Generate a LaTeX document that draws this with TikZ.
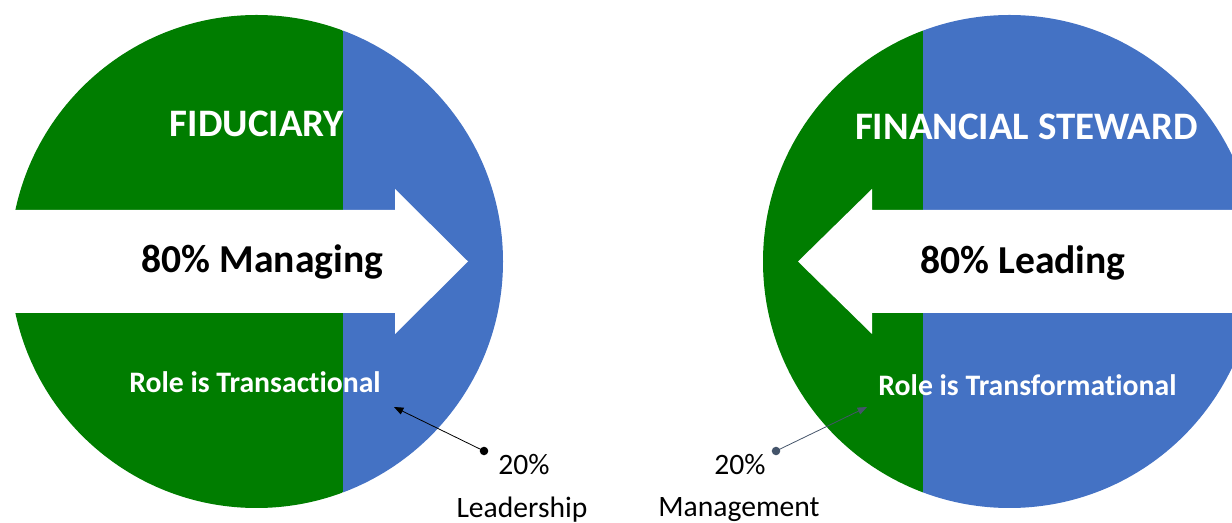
\documentclass[tikz,border=0pt]{standalone}
\usepackage{fontspec}
\setmainfont{Carlito}[Ligatures={NoCommon}]
\usetikzlibrary{arrows.meta}
\definecolor{fgreen}{RGB}{0,125,0}
\definecolor{fblue}{RGB}{68,114,196}
\definecolor{slate}{RGB}{68,84,106}
\tikzset{
  bigarrow/.style={fill=white,draw=none},
  title/.style={text=white,font=\bfseries\fontsize{29.2}{33}\selectfont,inner sep=0pt},
  centre/.style={text=black,font=\bfseries\fontsize{29.7}{33}\selectfont,inner sep=0pt},
  role/.style={text=white,font=\bfseries\fontsize{22.3}{26}\selectfont,inner sep=0pt},
  pct/.style={text=black,font=\fontsize{22.2}{26}\selectfont,inner sep=0pt},
  pointer/.style={-{Triangle[length=7pt,width=5.5pt]},line width=0.6pt},
}
\begin{document}
\begin{tikzpicture}[x=0.75pt,y=-0.75pt]
\useasboundingbox (0,0) rectangle (1232,523);
% left circle
\begin{scope}
  \clip (256.5,261.5) circle[radius=184.875pt];
  \fill[fgreen] (0,0) rectangle (343,523);
  \fill[fblue] (343,0) rectangle (520,523);
\end{scope}
\fill[bigarrow] (0,210) -- (395,210) -- (395,189) -- (468,261.5) -- (395,334) -- (395,313) -- (0,313) -- cycle;
% right circle
\begin{scope}
  \clip (1009.5,261.5) circle[radius=184.875pt];
  \fill[fgreen] (740,0) rectangle (923,523);
  \fill[fblue] (923,0) rectangle (1232,523);
\end{scope}
\fill[bigarrow] (1232,210) -- (872,210) -- (872,189) -- (798,261.5) -- (872,334) -- (872,313) -- (1232,313) -- cycle;
% texts
\node[title] (fid) at (257,124) {FIDUCIARY};
\node[centre] (man) at (262.5,262) {80\% Managing};
\node[role] (tra) at (255,382) {Role is Transactional};
\node[title] (fin) at (1026.5,127) {FINANCIAL STEWARD};
\node[centre] (lead) at (1023,263) {80\% Leading};
\node[role] (trf) at (1027.5,385) {Role is Transformational};
\node[pct] (p1) at (524,465) {20\%};
\node[pct] (lship) at (522,510) {Leadership};
\node[pct] (p2) at (740,465) {20\%};
\node[pct] (mgmt) at (739,510) {Management};
% connectors
\coordinate (d1) at (484,451);
\coordinate (t1) at (394,407);
\coordinate (d2) at (776,451);
\coordinate (t2) at (867,407);
\fill[black] (d1) circle[radius=3.2pt];
\draw[pointer,black] (d1) -- (t1);
\fill[slate] (d2) circle[radius=3.2pt];
\draw[pointer,slate] (d2) -- (t2);
\end{tikzpicture}
\end{document}
